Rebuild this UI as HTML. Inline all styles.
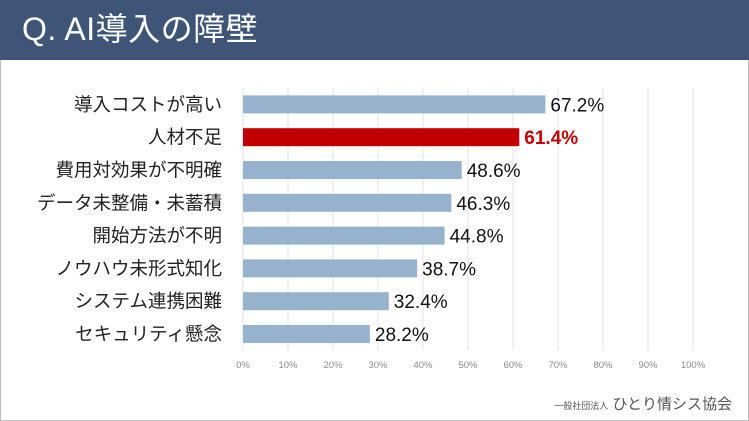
<!DOCTYPE html>
<html><head><meta charset="utf-8"><style>
body{margin:0;width:749px;height:421px;overflow:hidden;background:#fff;font-family:"Liberation Sans","Noto Sans CJK JP",sans-serif}
#frame{position:absolute;left:0;top:0;width:747px;height:419px;border:1px solid #bdbdbd}
#hdr{position:absolute;left:0;top:0;width:749px;height:60px;background:#3f5577}
#title{position:absolute;left:22px;top:9px;color:#fff;font-size:32px;line-height:40px;letter-spacing:0.5px}
svg{position:absolute;left:0;top:0}
#foot{position:absolute;right:17px;top:393px;color:#555;font-size:15px}
#foot small{font-size:9px}
</style></head><body>
<div id="frame"></div>
<div id="hdr"><div id="title">Q. AI導入の障壁</div></div>
<svg id="chart" width="749" height="421"></svg>
<div id="foot"><small>一般社団法人</small> ひとり情シス協会</div>
<script>
const categories=["導入コストが高い","人材不足","費用対効果が不明確","データ未整備・未蓄積","開始方法が不明","ノウハウ未形式知化","システム連携困難","セキュリティ懸念"];
const values=[67.2,61.4,48.6,46.3,44.8,38.7,32.4,28.2];
const ticks=[0,10,20,30,40,50,60,70,80,90,100];
const highlight=[false,true,false,false,false,false,false,false];
const svg=document.getElementById('chart');const NS='http://www.w3.org/2000/svg';
const x=v=>243+v*4.5;const y0=88,step=32.8;const yc=i=>y0+step*(i+0.5);
function mk(t,a){const e=document.createElementNS(NS,t);for(const k in a)e.setAttribute(k,a[k]);svg.appendChild(e);return e;}
ticks.forEach(t=>{
const l=mk('line',{x1:x(t),x2:x(t),y1:88,y2:350,stroke:'#e3e3e3','stroke-width':1});


const tx=mk('text',{x:x(t),y:368,'text-anchor':'middle','font-size':9.5,fill:'#8c8c8c'});tx.textContent=t+'%';


});
categories.forEach((c,i)=>{
const cy=yc(i);const hl=highlight[i];
const r=mk('rect',{x:x(0),y:cy-9,width:x(values[i])-x(0),height:18,fill:hl?'#c00000':'#97b2cc'});


const lb=mk('text',{x:222,y:cy+6.5,'text-anchor':'end','font-size':18.5,fill:'#222'});lb.textContent=c;


const v=mk('text',{x:x(values[i])+5,y:cy+7,'font-size':19,fill:hl?'#c00000':'#111','font-weight':hl?'bold':'normal'});v.textContent=values[i].toFixed(1)+'%';


});
</script>
</body></html>
